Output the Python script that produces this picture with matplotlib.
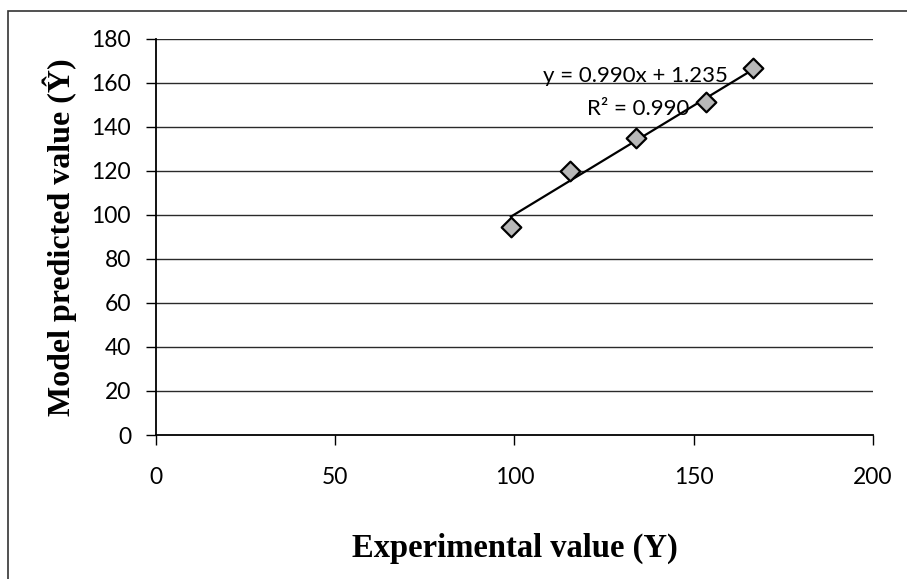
import numpy as np
import matplotlib
matplotlib.use("Agg")
import matplotlib.pyplot as plt
from matplotlib.patches import Rectangle

# Experimental vs. model-predicted values
experimental = [99.0, 115.5, 134.0, 153.4, 166.6]
predicted = [94.5, 120.0, 135.0, 151.5, 167.0]

# Linear trendline reported on the chart
slope = 0.990
intercept = 1.235
r_squared = 0.990

x_ticks = [0, 50, 100, 150, 200]
y_ticks = [0, 20, 40, 60, 80, 100, 120, 140, 160, 180]

fig = plt.figure(figsize=(9.07, 5.79), dpi=100)
ax = fig.add_axes([0.172, 0.2487, 0.7905, 0.684])

ax.set_xlim(0, 200)
ax.set_ylim(0, 180)

# horizontal gridlines
for yv in y_ticks[1:]:
    ax.axhline(yv, color="#2a2a2a", lw=1.0, zorder=1)

# trendline over the data range
xs = np.array([min(experimental), max(experimental)])
ax.plot(xs, slope * xs + intercept, color="black", lw=1.6, zorder=2)

ax.scatter(experimental, predicted, marker="D", s=100, facecolor="#b8b8b8",
           edgecolor="black", linewidth=1.6, zorder=3)

ax.text(133.6, 163, f"y = {slope:.3f}x + {intercept:.3f}", fontsize=16,
        family="Lato", ha="center", va="center", zorder=4)
ax.text(134.5, 148, f"R² = {r_squared:.3f}", fontsize=16, family="Lato",
        ha="center", va="center", zorder=4)

ax.set_xticks(x_ticks)
ax.set_yticks(y_ticks)
ax.set_xticklabels([str(v) for v in x_ticks], family="Lato", fontsize=16.5)
ax.set_yticklabels([str(v) for v in y_ticks], family="Lato", fontsize=16.5)
ax.tick_params(axis="both", direction="out", length=7, width=1.0, color="black")
ax.tick_params(axis="x", pad=16)
ax.tick_params(axis="y", pad=11)

for side in ("top", "right"):
    ax.spines[side].set_visible(False)
for side in ("left", "bottom"):
    ax.spines[side].set_linewidth(1.3)
    ax.spines[side].set_color("black")

ax.set_xlabel("Experimental value (Y)", family="Liberation Serif",
              fontweight="bold", fontsize=23.5, labelpad=32)
ax.set_ylabel("Model predicted value (Ŷ)", family="Liberation Serif",
              fontweight="bold", fontsize=23, labelpad=10)

# chart frame
fig.patches.append(Rectangle((8 / 907, -0.05), 1.2, 1 - 11 / 579 + 0.05,
                             transform=fig.transFigure, fill=False,
                             edgecolor="#333333", lw=1.2))

fig.savefig("out.png", dpi=100, facecolor="white")
